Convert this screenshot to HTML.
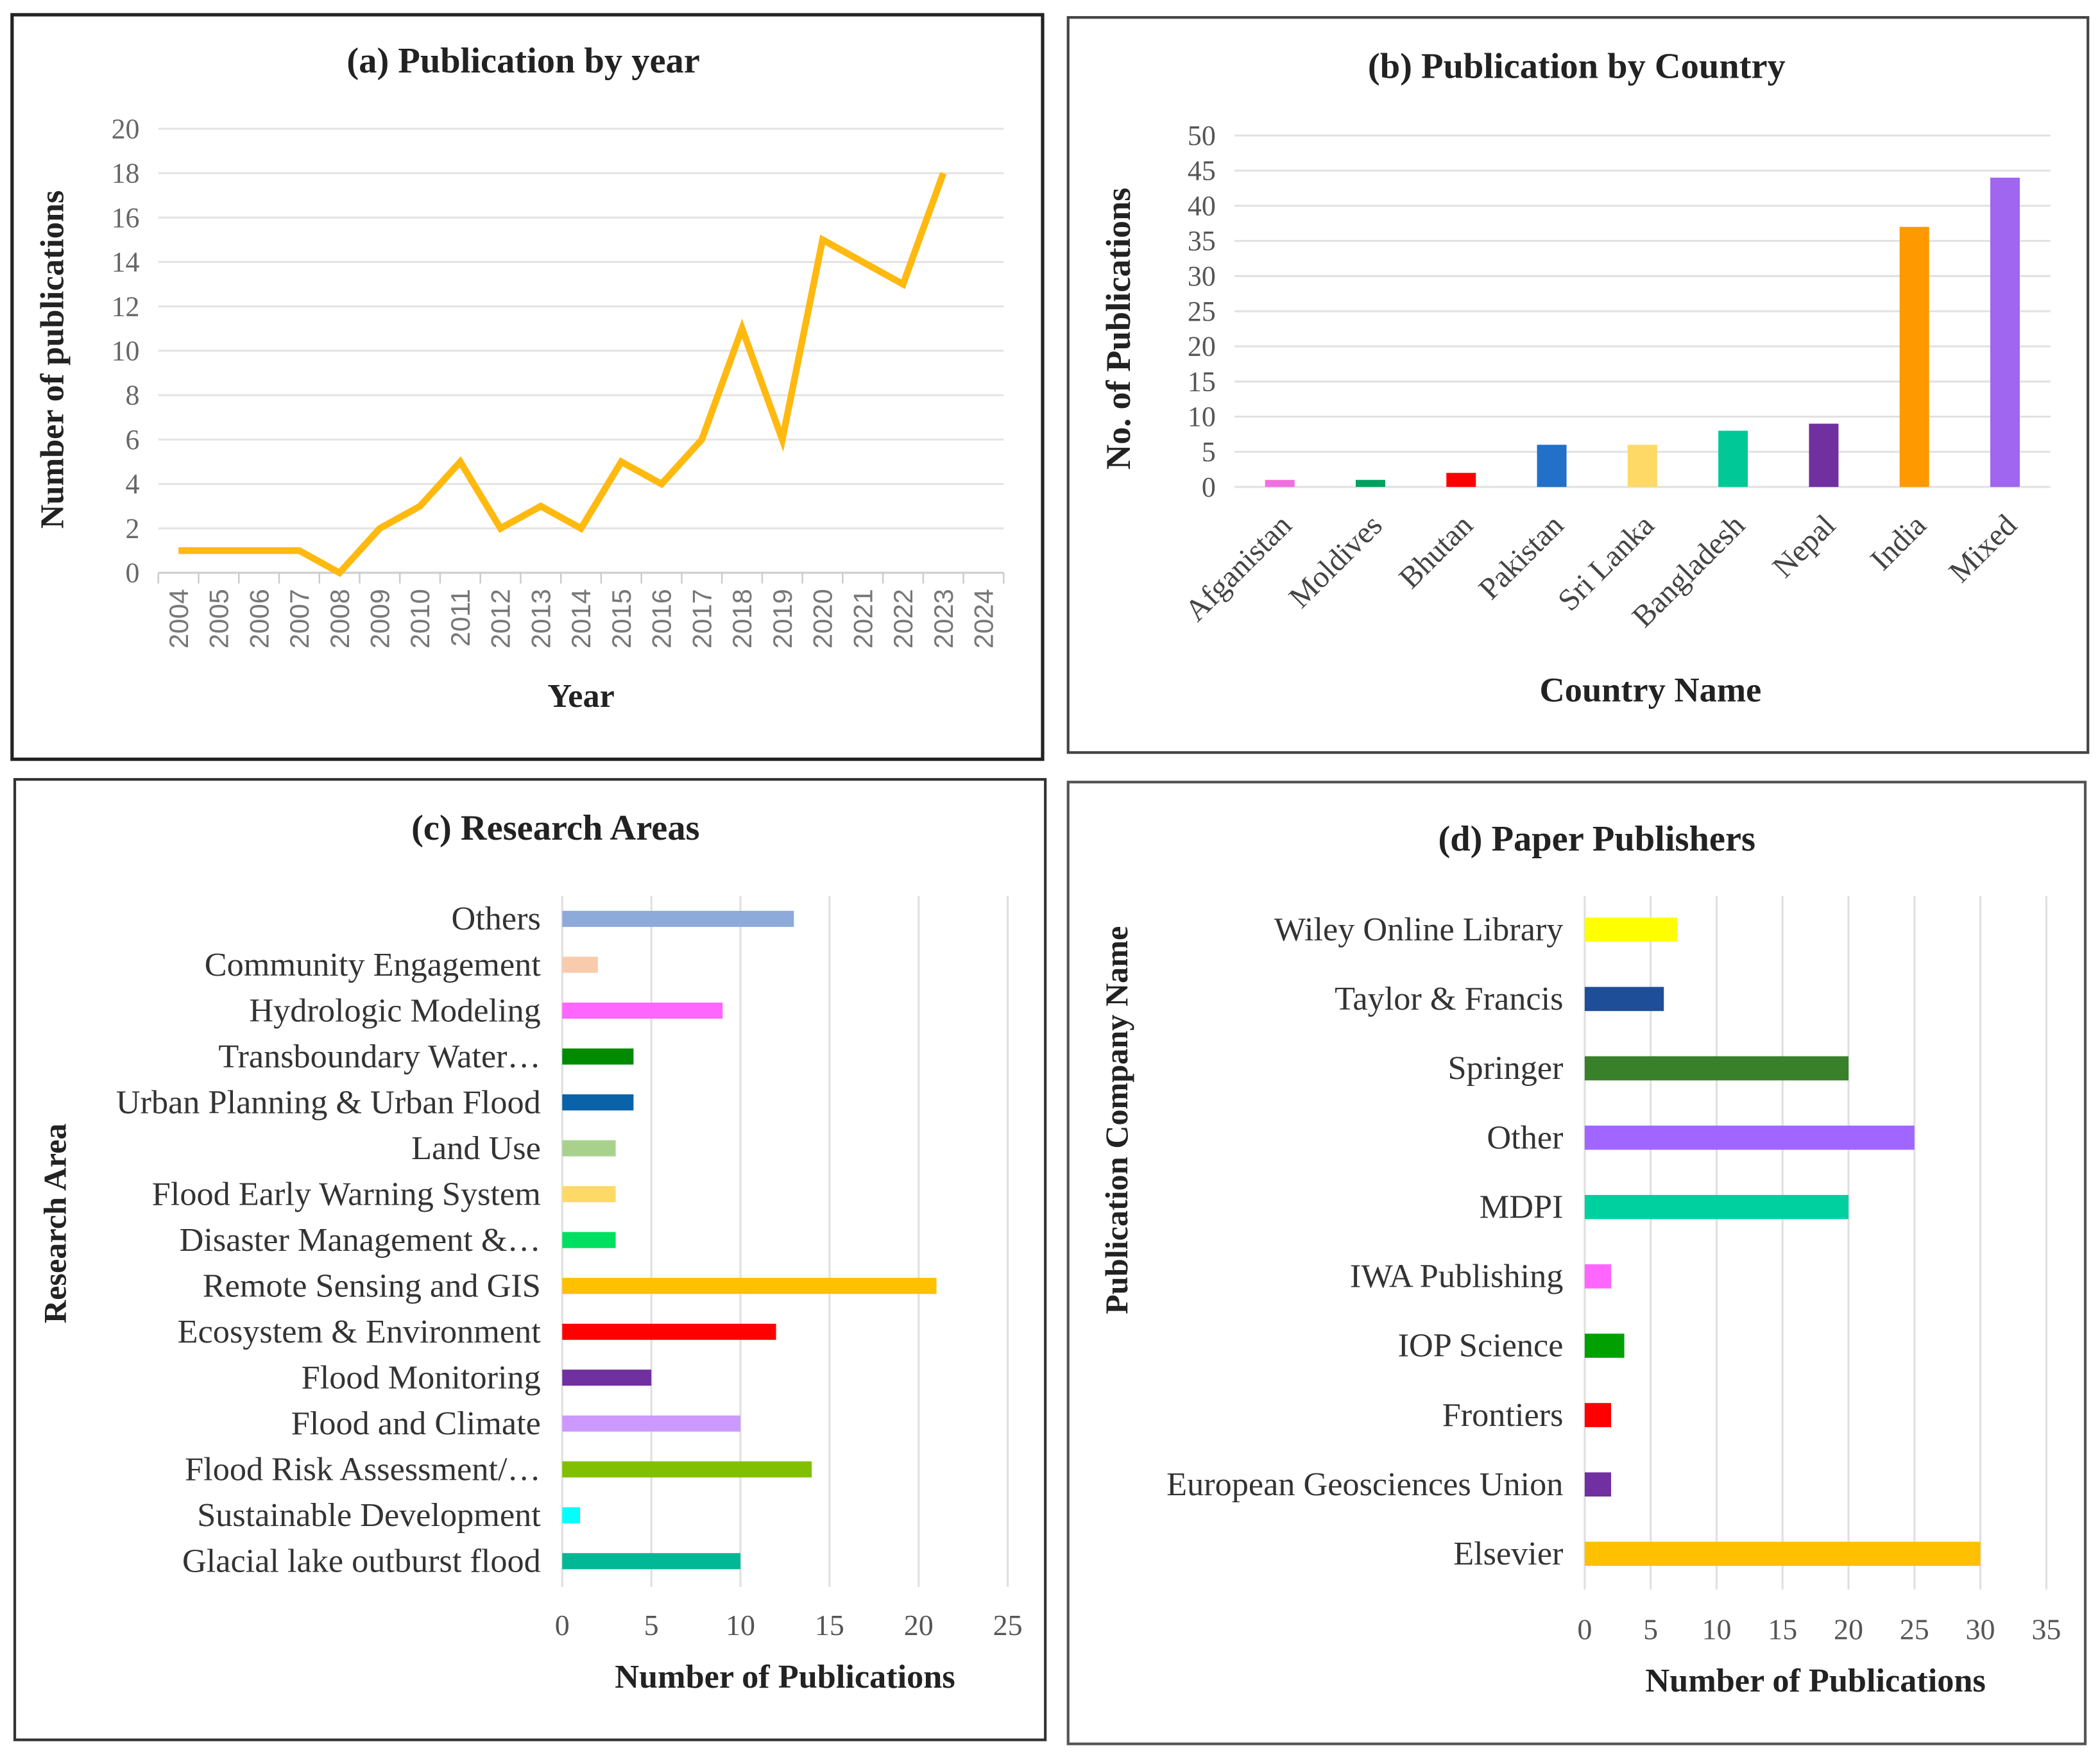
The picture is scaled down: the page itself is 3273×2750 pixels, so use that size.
<!DOCTYPE html>
<html><head><meta charset="utf-8"><style>
html,body{margin:0;padding:0;background:#fff;}
svg{display:block;}
text{font-family:"Liberation Serif",serif;}
</style></head><body>
<svg id="fig" width="3273" height="2750" viewBox="0 0 1565 1315" preserveAspectRatio="none" xmlns="http://www.w3.org/2000/svg">
<rect x="0" y="0" width="1565" height="1315" fill="#fff"/>
<rect x="9" y="11" width="768" height="555" fill="none" stroke="#222" stroke-width="2.5"/>
<rect x="796" y="13" width="760" height="548" fill="none" stroke="#444" stroke-width="2"/>
<rect x="11" y="581" width="768" height="716" fill="none" stroke="#333" stroke-width="2"/>
<rect x="796" y="583" width="758" height="717" fill="none" stroke="#555" stroke-width="2"/>
<g id="ga"></g><g id="gb"></g><g id="gc"></g><g id="gd"></g>
</svg>
<script>
const yearCats=["2004","2005","2006","2007","2008","2009","2010","2011","2012","2013","2014","2015","2016","2017","2018","2019","2020","2021","2022","2023","2024"];
const yearVals=[1,1,1,1,0,2,3,5,2,3,2,5,4,6,11,6,15,14,13,18];
const yearTicks=[0,2,4,6,8,10,12,14,16,18,20];
const countryCats=["Afganistan","Moldives","Bhutan","Pakistan","Sri Lanka","Bangladesh","Nepal","India","Mixed"];
const countryVals=[1,1,2,6,6,8,9,37,44];
const countryColors=["#f070e0","#00a060","#ff0000","#2270c8","#ffd966","#00c896","#7030a0","#ff9900","#a066f0"];
const countryTicks=[0,5,10,15,20,25,30,35,40,45,50];
const areaCats=["Others","Community Engagement","Hydrologic Modeling","Transboundary Water…","Urban Planning & Urban Flood","Land Use","Flood Early Warning System","Disaster Management &…","Remote Sensing and GIS","Ecosystem &  Environment","Flood Monitoring","Flood and Climate","Flood Risk Assessment/…","Sustainable Development","Glacial lake outburst flood"];
const areaVals=[13,2,9,4,4,3,3,3,21,12,5,10,14,1,10];
const areaColors=["#8eaadb","#f8cbad","#ff66ff","#008a00","#0a62a8","#a9d18e","#ffd966","#00e060","#ffc000","#ff0000","#7030a0","#cc99ff","#80c000","#00ffff","#00b896"];
const areaTicks=[0,5,10,15,20,25];
const pubCats=["Wiley Online Library","Taylor & Francis","Springer","Other","MDPI","IWA Publishing","IOP Science","Frontiers","European Geosciences Union","Elsevier"];
const pubVals=[7,6,20,25,20,2,3,2,2,30];
const pubColors=["#ffff00","#1f4e99","#38802a","#a066ff","#00d0a0","#ff66ff","#00a000","#ff0000","#7030a0","#ffc000"];
const pubTicks=[0,5,10,15,20,25,30,35];

const NS="http://www.w3.org/2000/svg";
function mk(parent,tag,attrs,txt){const e=document.createElementNS(NS,tag);for(const k in attrs)e.setAttribute(k,attrs[k]);if(txt!==undefined)e.textContent=txt;parent.appendChild(e);return e;}

// Panel A
(function(){
const g=document.getElementById('ga');
const x0=118,x1=748,y0=427,y1=96;
const bw=(x1-x0)/yearCats.length;
const xs=i=>x0+bw*(i+0.5);
const ys=v=>y0-(v/20)*(y0-y1);
let t=mk(g,'text',{x:390,y:54,'text-anchor':'middle','font-size':27,'font-weight':'bold',fill:'#222'},'(a) Publication by year');


yearTicks.forEach(v=>{
 const l=mk(g,'line',{x1:x0,x2:x1,y1:ys(v),y2:ys(v),stroke:v===0?'#ccc':'#e4e4e4','stroke-width':1.5});
 
 
 const tt=mk(g,'text',{x:104,y:ys(v)+7,'text-anchor':'end','font-size':21,fill:'#666'},String(v));
 
 
});
yearCats.forEach((c,i)=>{
 const l=mk(g,'line',{x1:x0+bw*i,x2:x0+bw*i,y1:y0,y2:y0+8,stroke:'#ccc','stroke-width':1.2});
 
 
 const tt=mk(g,'text',{x:0,y:0,transform:`translate(${xs(i)+7},${y0+12}) rotate(-90)`,'text-anchor':'end','font-size':20,fill:'#777',style:'font-family:"Liberation Sans",sans-serif'},c);
 
 
});
mk(g,'line',{x1:x1,x2:x1,y1:y0,y2:y0+8,stroke:'#ccc','stroke-width':1.2});
const pts=yearVals.map((v,i)=>xs(i)+','+ys(v)).join(' ');
const pl=mk(g,'polyline',{points:pts,fill:'none',stroke:'#ffb90f','stroke-width':5,'stroke-linejoin':'miter'});


t=mk(g,'text',{x:433,y:527,'text-anchor':'middle','font-size':25,'font-weight':'bold',fill:'#222'},'Year');


t=mk(g,'text',{x:0,y:0,transform:'translate(47,268) rotate(-90)','text-anchor':'middle','font-size':25,'font-weight':'bold',fill:'#222'},'Number of publications');


})();

// Panel B
(function(){
const g=document.getElementById('gb');
const x0=920,x1=1528,y0=363,y1=101;
const bw=(x1-x0)/countryCats.length;
const xs=i=>x0+bw*(i+0.5);
const ys=v=>y0-(v/50)*(y0-y1);
let t=mk(g,'text',{x:1175,y:58,'text-anchor':'middle','font-size':27,'font-weight':'bold',fill:'#222'},'(b) Publication by Country');


countryTicks.forEach(v=>{
 const l=mk(g,'line',{x1:x0,x2:x1,y1:ys(v),y2:ys(v),stroke:'#e2e2e2','stroke-width':1.5});
 
 
 const tt=mk(g,'text',{x:906,y:ys(v)+7,'text-anchor':'end','font-size':21,fill:'#555'},String(v));
 
 
});
countryCats.forEach((c,i)=>{
 const r=mk(g,'rect',{x:xs(i)-11,y:ys(countryVals[i]),width:22,height:ys(0)-ys(countryVals[i]),fill:countryColors[i]});
 
 
 const tt=mk(g,'text',{x:0,y:0,transform:`translate(${xs(i)+10},${y0+30}) rotate(-45)`,'text-anchor':'end','font-size':23,fill:'#444'},c);
 
 
});
t=mk(g,'text',{x:1230,y:523,'text-anchor':'middle','font-size':26,'font-weight':'bold',fill:'#222'},'Country Name');


t=mk(g,'text',{x:0,y:0,transform:'translate(842,245) rotate(-90)','text-anchor':'middle','font-size':26,'font-weight':'bold',fill:'#222'},'No. of Publications');


})();

function hbar(g,cats,vals,colors,ticks,o){
 const xs=v=>o.x0+(v/o.max)*(o.x1-o.x0);
 const ys=i=>o.yFirst+i*o.step;
 ticks.forEach(v=>{
  const l=mk(g,'line',{x1:xs(v),x2:xs(v),y1:o.gTop,y2:o.gBot,stroke:'#e0e0e0','stroke-width':1.5});
  
  
  const tt=mk(g,'text',{x:xs(v),y:o.tickY,'text-anchor':'middle','font-size':22,fill:'#555'},String(v));
  
  
 });
 cats.forEach((c,i)=>{
  const r=mk(g,'rect',{x:xs(0),y:ys(i)-o.bh/2,width:xs(vals[i])-xs(0),height:o.bh,fill:colors[i]});
  
  
  const tt=mk(g,'text',{x:o.labX,y:ys(i)+8,'text-anchor':'end','font-size':25,fill:'#333'},c);
  
  
 });
}

// Panel C
(function(){
const g=document.getElementById('gc');
let t=mk(g,'text',{x:414,y:626,'text-anchor':'middle','font-size':27,'font-weight':'bold',fill:'#222'},'(c) Research Areas');


hbar(g,areaCats,areaVals,areaColors,areaTicks,{id:'c',x0:419,x1:751,max:25,yFirst:685,step:34.2,bh:12,gTop:668,gBot:1183,tickY:1219,labX:403});
t=mk(g,'text',{x:585,y:1258,'text-anchor':'middle','font-size':25,'font-weight':'bold',fill:'#222'},'Number of Publications');


t=mk(g,'text',{x:0,y:0,transform:'translate(49,912) rotate(-90)','text-anchor':'middle','font-size':24,'font-weight':'bold',fill:'#222'},'Research Area');


})();

// Panel D
(function(){
const g=document.getElementById('gd');
let t=mk(g,'text',{x:1190,y:634,'text-anchor':'middle','font-size':27,'font-weight':'bold',fill:'#222'},'(d) Paper Publishers');


hbar(g,pubCats,pubVals,pubColors,pubTicks,{id:'d',x0:1181,x1:1525,max:35,yFirst:693,step:51.7,bh:18,gTop:668,gBot:1185,tickY:1222,labX:1165});
t=mk(g,'text',{x:1353,y:1261,'text-anchor':'middle','font-size':25,'font-weight':'bold',fill:'#222'},'Number of Publications');


t=mk(g,'text',{x:0,y:0,transform:'translate(840,835) rotate(-90)','text-anchor':'middle','font-size':24,'font-weight':'bold',fill:'#222'},'Publication Company Name');


})();
</script>
</body></html>
